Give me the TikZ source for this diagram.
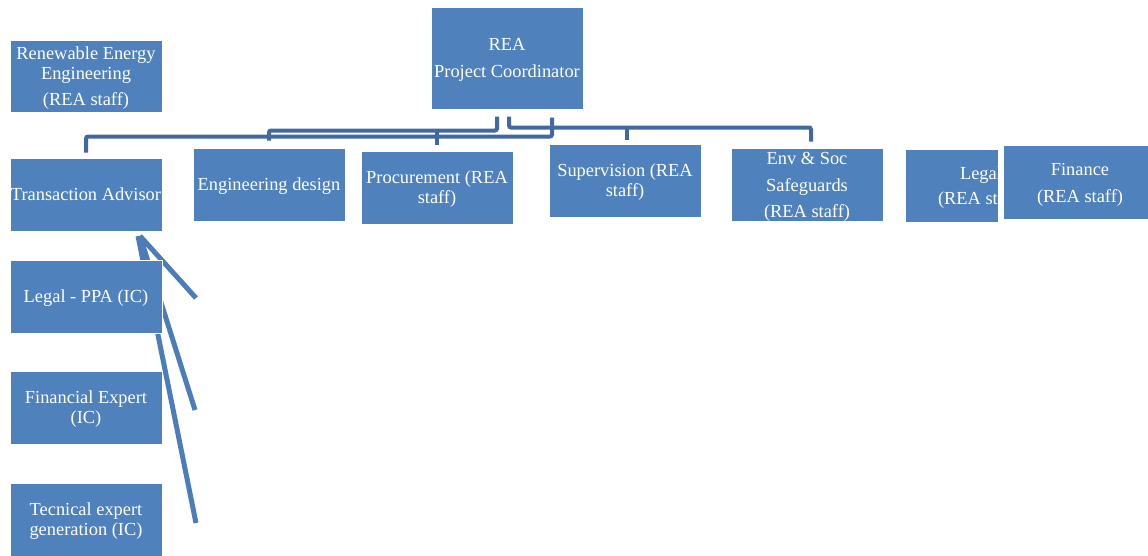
\documentclass[tikz,border=0pt]{standalone}
\usepackage{fontspec}
\setmainfont{Liberation Serif}
\usetikzlibrary{backgrounds,calc}
\definecolor{boxblue}{RGB}{79,129,189}
\definecolor{connblue}{RGB}{65,105,158}
\tikzset{
  orgbox/.style={rectangle, fill=boxblue, draw=white, line width=1pt, text=white,
    minimum width=152pt, minimum height=73pt, inner sep=0pt, align=center,
    text depth=0pt, font=\fontsize{18.4}{20}\selectfont},
  conn/.style={draw=connblue, line width=4pt, rounded corners=2pt},
  diagconn/.style={draw=boxblue!85!connblue, line width=5pt}
}
\begin{document}
\begin{tikzpicture}[x=1pt,y=-1pt]
\useasboundingbox (0,0) rectangle (1148,555);
% boxes
\node[orgbox, minimum height=102pt] (rea) at (507,58) {REA\\[7pt]Project Coordinator};
\node[orgbox, minimum height=72pt] (ree) at (86,76) {Renewable Energy\\Engineering\\[6pt](REA staff)};
\node[orgbox] (ta) at (86,194.5) {Transaction Advisor};
\node[orgbox] (eng) at (269,184.5) {Engineering design};
\node[orgbox] (proc) at (437,187.5) {Procurement (REA\\staff)};
\node[orgbox] (sup) at (625,180.5) {Supervision (REA\\staff)};
\node[orgbox] (env) at (807,184.5) {Env \& Soc\\[7pt]Safeguards\\[6pt](REA staff)};
\node[orgbox] (legal) at (981,185.5) {Legal\\[5pt](REA staff)};
\node[orgbox, line width=6pt, minimum width=158pt, minimum height=79pt] (fin) at (1080,182.5) {Finance\\[7pt](REA staff)};
\node[orgbox] (lppa) at (86,296.5) {Legal - PPA (IC)};
\node[orgbox] (fe) at (86,407.5) {Financial Expert\\(IC)};
\node[orgbox] (te) at (86,519.5) {Tecnical expert\\generation (IC)};
% free ends of the diagonal connectors
\coordinate (fan) at (140,236);
\coordinate (d1) at (196,298);
\coordinate (d2) at (195,410);
\coordinate (d3) at (196,523);
\begin{scope}[on background layer]
\fill[white] (0,0) rectangle (1148,555);
% top connectors
\draw[conn, shorten <=7pt, shorten >=7pt] (eng.north) -- ++(0,-17) -| ([xshift=-10pt]rea.south);
\draw[conn, shorten <=6pt] (proc.north) -- ++(0,-20);
\draw[conn, shorten <=6pt, shorten >=7pt] ([xshift=4pt]env.north) -- ++(0,-20) -| ([xshift=2pt]rea.south);
\draw[conn, shorten <=4pt] ([xshift=2pt]sup.north) -- ++(0,-16);
\draw[conn, shorten <=5pt, shorten >=8pt] (ta.north) -- ++(0,-21) -| ([xshift=45pt]rea.south);
% diagonal connectors
\draw[diagconn] (fan) -- (d1);
\draw[diagconn] (fan) -- (d2);
\draw[diagconn] ([xshift=-2pt]fan) -- (d3);
\end{scope}
\end{tikzpicture}
\end{document}
